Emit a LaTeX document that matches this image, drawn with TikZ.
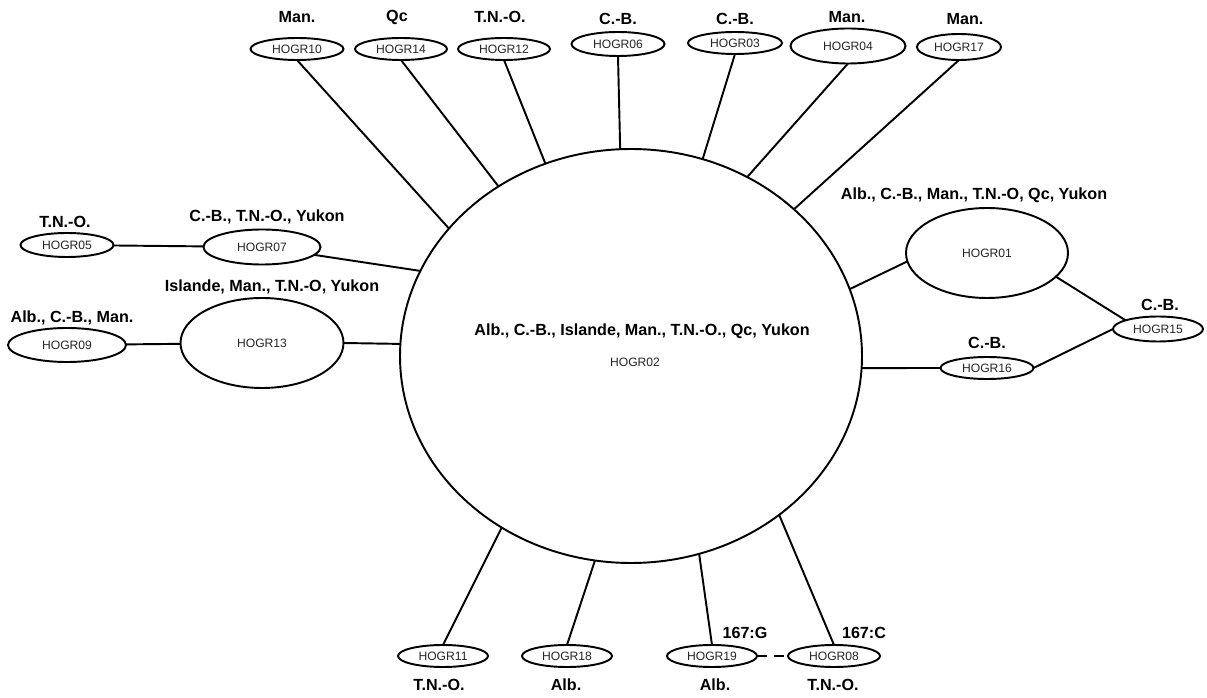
\documentclass[tikz,border=0pt]{standalone}
\usepackage{fontspec}
\setmainfont{Liberation Sans}
\usetikzlibrary{shapes.geometric}
\newcommand\hidfont{\fontsize{9.1}{10}\selectfont}
\newcommand\hlabfont{\fontsize{12.1}{13}\selectfont\bfseries}
\begin{document}
\begin{tikzpicture}[x=0.75pt,y=-0.75pt,
  hap/.style 2 args={ellipse,draw,line width=1.45pt,inner sep=1pt,outer sep=0pt,
    minimum width=#1*0.75pt,minimum height=#2*0.75pt,font=\hidfont,text=black!85},
  lab/.style={inner sep=0pt,font=\hlabfont},
  idtxt/.style={inner sep=0pt,font=\hidfont,text=black!85},
  link/.style={line width=1.45pt},
  ]
\fill[white] (0,0) rectangle (1207,698);
\useasboundingbox (0,0) rectangle (1207,698);

% central haplotype
\node[hap={462}{414}] (c) at (631,356) {};
\node[lab] (lc) at (642,331) {Alb., C.-B., Islande, Man., T.N.-O., Qc, Yukon};
\node[idtxt] (cid) at (635,362) {HOGR02};

% top row
\node[hap={93}{22}] (n10) at (297,49) {HOGR10};
\node[lab] (l10) at (297,17) {Man.};
\node[hap={92}{22}] (n14) at (401,49) {HOGR14};
\node[lab] (l14) at (397,17) {Qc};
\node[hap={92}{22}] (n12) at (504,49) {HOGR12};
\node[lab] (l12) at (500,17) {T.N.-O.};
\node[hap={93}{24}] (n06) at (618,44) {HOGR06};
\node[lab] (l06) at (618,19) {C.-B.};
\node[hap={94}{22}] (n03) at (735,43) {HOGR03};
\node[lab] (l03) at (735,19) {C.-B.};
\node[hap={115}{35}] (n04) at (848,46) {HOGR04};
\node[lab] (l04) at (847,17) {Man.};
\node[hap={84}{26}] (n17) at (959,47) {HOGR17};
\node[lab] (l17) at (965,19) {Man.};

% left
\node[hap={93}{24}] (n05) at (67,245) {HOGR05};
\node[lab] (l05) at (65,222) {T.N.-O.};
\node[hap={117}{35}] (n07) at (262,247) {HOGR07};
\node[lab] (l07) at (267,217) {C.-B., T.N.-O., Yukon};
\node[hap={163}{90}] (n13) at (262,343) {HOGR13};
\node[lab] (l13) at (272,287) {Islande, Man., T.N.-O, Yukon};
\node[hap={118}{34}] (n09) at (67,345) {HOGR09};
\node[lab] (l09) at (72,318) {Alb., C.-B., Man.};

% right
\node[hap={162}{90}] (n01) at (987,253) {HOGR01};
\node[lab] (l01) at (974,195) {Alb., C.-B., Man., T.N.-O, Qc, Yukon};
\node[hap={90}{25}] (n15) at (1158,329) {HOGR15};
\node[lab] (l15) at (1160,305) {C.-B.};
\node[hap={93}{22}] (n16) at (987,368) {HOGR16};
\node[lab] (l16) at (987,343) {C.-B.};

% bottom
\node[hap={90}{22}] (n11) at (443,656) {HOGR11};
\node[lab] (l11) at (439,685) {T.N.-O.};
\node[hap={90}{22}] (n18) at (567,656) {HOGR18};
\node[lab] (l18) at (566,685) {Alb.};
\node[hap={90}{22}] (n19) at (712,656) {HOGR19};
\node[lab] (l19) at (715,685) {Alb.};
\node[lab] (g19) at (745,633) {167:G};
\node[hap={92}{22}] (n08) at (834,656) {HOGR08};
\node[lab] (l08) at (833,685) {T.N.-O.};
\node[lab] (g08) at (864,633) {167:C};

% connectors
\draw[link] (n10.south) -- (c.145.5);
\draw[link] (n14.south) -- (c.128.8);
\draw[link] (n12.south) -- (c.114.6);
\draw[link] (n06.south) -- (c.93.6);
\draw[link] (n03.south) -- (c.70.8);
\draw[link] (n04.south) -- (c.57.2);
\draw[link] (n17.south) -- (c.42.7);
\draw[link] (n05) -- (n07);
\draw[link] (n07) -- (c.158.2);
\draw[link] (n09) -- (n13);
\draw[link] (n13.east) -- (c.177);
\draw[link] (c.17.6) -- (n01.186);
\draw[link] (n01.-19) -- (n15.165);
\draw[link] (c.-3) -- (n16.west);
\draw[link] (n16.east) -- (n15.west);
\draw[link] (c.233.7) -- (n11.north);
\draw[link] (c.260.4) -- (n18.north);
\draw[link] (c.289.1) -- (n19.north);
\draw[link] (c.313) -- (n08.north);
\draw[link,dash pattern=on 7.5pt off 5pt] (n19.east) -- (n08.west);
\end{tikzpicture}
\end{document}
